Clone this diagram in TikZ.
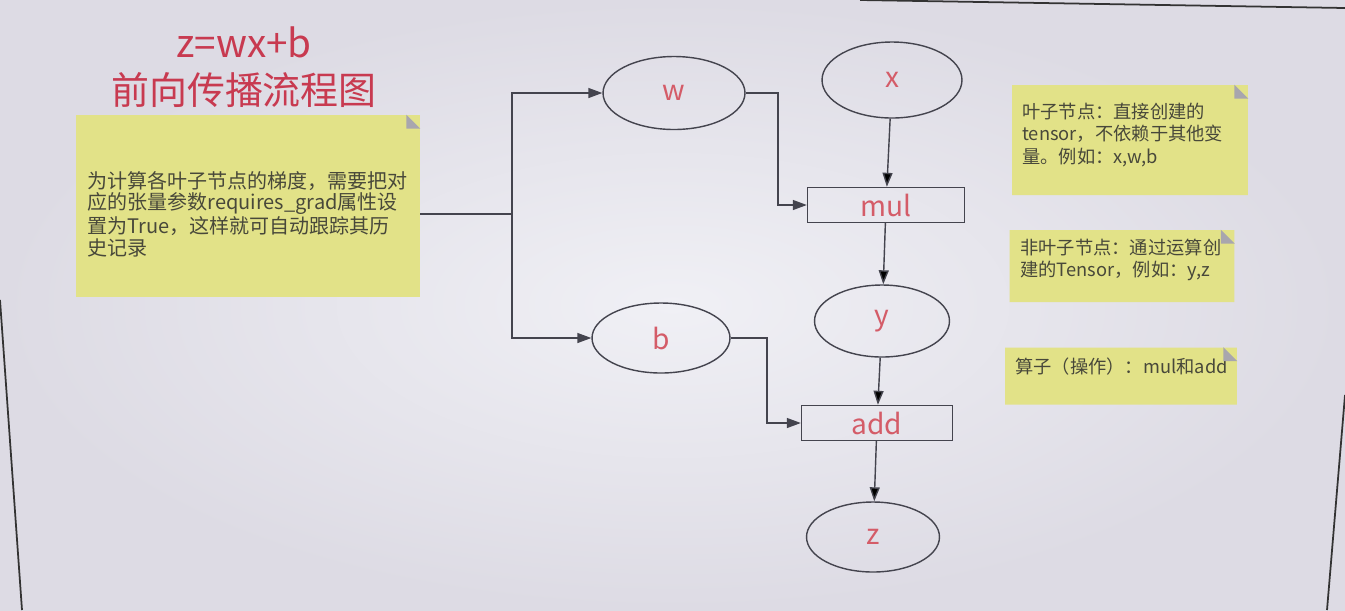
\documentclass[tikz,border=0pt]{standalone}
\usepackage{fontspec}
\setmainfont{Noto Sans CJK SC}
\usetikzlibrary{shapes,arrows.meta,calc}

\definecolor{titlered}{RGB}{200,58,80}
\definecolor{labelred}{RGB}{212,92,104}
\definecolor{linegrey}{RGB}{68,68,78}
\definecolor{noteyellow}{RGB}{226,226,136}
\definecolor{foldgrey}{RGB}{168,166,174}
\definecolor{notetextc}{RGB}{72,72,58}
\definecolor{screenlight}{RGB}{240,240,245}
\definecolor{screendark}{RGB}{221,219,228}

\tikzset{
  var/.style={ellipse, draw=linegrey, thick, minimum width=2.78cm, minimum height=1.44cm,
    inner sep=0pt, text=labelred, font=\fontsize{16}{18}\selectfont},
  opbox/.style={rectangle, draw=linegrey, thick, minimum width=3.08cm, minimum height=0.7cm,
    inner sep=0pt, text=labelred, font=\fontsize{16}{18}\selectfont},
  note/.style={chamfered rectangle, chamfered rectangle corners=north east,
    chamfered rectangle xsep=0.28cm, chamfered rectangle ysep=0.28cm,
    fill=noteyellow, inner sep=0pt},
  notetext/.style={anchor=west, align=left, inner sep=0pt, text=notetextc},
  fold/.style={fill=foldgrey},
  link/.style={draw=linegrey, thick},
  screenedge/.style={-, draw=black!80, line width=1pt}
}

\begin{document}
\begin{tikzpicture}[x=0.02cm, y=-0.02cm, ->, >={Triangle[length=2.8mm,width=2mm]}, auto]
      \useasboundingbox (0,0) rectangle (1345,610);
      \shade[inner color=screenlight, outer color=screendark] (0,0) rectangle (1345,610);
      \draw[screenedge] (0,300) -- (22,610);
      \draw[screenedge] (860,0) -- (1345,8);
      \draw[screenedge] (1345,395) -- (1327,610);

      % title
      \node [text=titlered, font=\fontsize{22}{24}\selectfont] (formula) at (244,42) {z=wx+b};
      \node [text=titlered, font=\fontsize{21.6}{24}\selectfont] (title) at (244,90) {前向传播流程图};

      % notes
      \node [note, minimum width=6.88cm, minimum height=3.64cm] (gradnote) at (248,206) {};
      \node [notetext, font=\fontsize{11.4}{12.4}\selectfont] (gradtext) at (87,214)
        {为计算各叶子节点的梯度，需要把对\\应的张量参数requires\_grad属性设\\置为True，这样就可自动跟踪其历\\史记录};
      \node [note, minimum width=4.72cm, minimum height=2.2cm] (leafnote) at (1130,140) {};
      \node [notetext, font=\fontsize{10.4}{12.8}\selectfont] (leaftext) at (1022,135)
        {叶子节点：直接创建的\\tensor，不依赖于其他变\\量。例如：x,w,b};
      \node [note, minimum width=4.5cm, minimum height=1.44cm] (nonleafnote) at (1122,266) {};
      \node [notetext, font=\fontsize{10.4}{12.8}\selectfont] (nonleaftext) at (1020,260)
        {非叶子节点：通过运算创\\建的Tensor，例如：y,z};
      \node [note, minimum width=4.64cm, minimum height=1.14cm] (opnote) at (1121,376) {};
      \node [notetext, font=\fontsize{10.4}{12.8}\selectfont] (optext) at (1015,367)
        {算子（操作）：mul和add};
      \foreach \n in {gradnote,leafnote,nonleafnote,opnote}
        \fill [fold] ($(\n.north -| \n.east)+(-14,0)$) -- ($(\n.north -| \n.east)+(0,14)$)
          -- ($(\n.north -| \n.east)+(-14,14)$) -- cycle;

      % graph
      \node [var, minimum width=2.84cm, minimum height=1.46cm] (w) at (674,93) {w};
      \node [var, minimum width=2.80cm, minimum height=1.52cm] (x) at (892,80) {x};
      \node [opbox, minimum width=3.14cm] (mul) at (886,205) {mul};
      \node [var, minimum width=2.70cm] (y) at (882,321) {y};
      \node [var, minimum width=2.76cm, minimum height=1.40cm] (b) at (661,338) {b};
      \node [opbox, minimum width=3.02cm] (add) at (877,423) {add};
      \node [var, minimum width=2.66cm, minimum height=1.40cm] (z) at (873,537) {z};

      \coordinate (split) at (512,214);
      \coordinate (wbend) at (778,150);
      \coordinate (bbend) at (767,380);
      \draw [link, -] (gradnote.east |- gradtext.east) -- (split);
      \draw [link] (split) |- (w.west);
      \draw [link] (split) |- (b.west);
      \draw [link] (w.east) -| (wbend) |- (mul.west);
      \draw [link] (b.east) -| (bbend) |- (add.west);
      \path [link]
      (x) edge (mul)
      (mul) edge (y)
      (y) edge (add)
      (add) edge (z)
      ;
\end{tikzpicture}
\end{document}
